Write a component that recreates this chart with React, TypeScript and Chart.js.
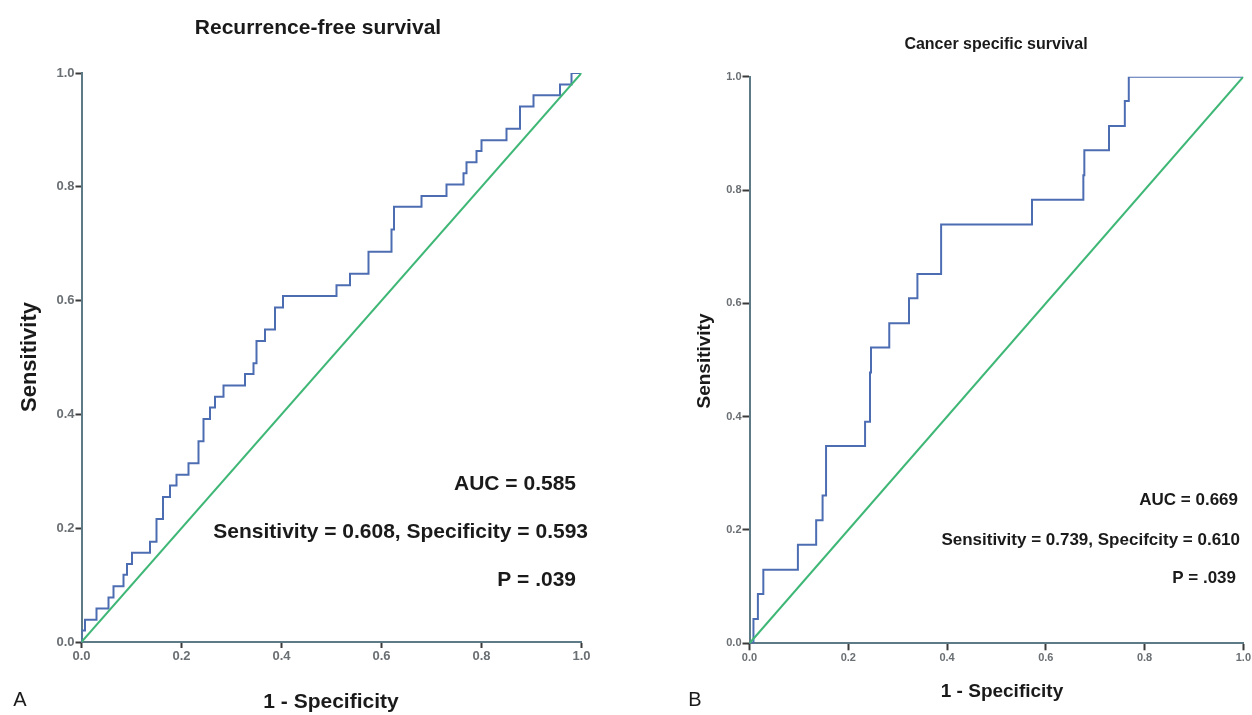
import React, { useEffect, useRef } from "react";
import { Chart, registerables } from "chart.js";

Chart.register(...registerables);

// ---- Data ----
// Panel A: Recurrence-free survival ROC (step points: at each FPR the curve rises to the given sensitivity)
const rfsFpr = [0, 0, 0.007, 0.030, 0.054, 0.064, 0.084, 0.091, 0.101, 0.137, 0.150, 0.163, 0.177, 0.190, 0.214, 0.234, 0.244, 0.257, 0.267, 0.284, 0.327, 0.344, 0.350, 0.367, 0.387, 0.403, 0.510, 0.537, 0.574, 0.620, 0.625, 0.680, 0.730, 0.764, 0.770, 0.790, 0.800, 0.850, 0.877, 0.904, 0.957, 0.980, 1.0];
const rfsSens = [0, 0.020, 0.039, 0.059, 0.078, 0.098, 0.118, 0.137, 0.157, 0.176, 0.216, 0.255, 0.275, 0.294, 0.314, 0.353, 0.392, 0.412, 0.431, 0.451, 0.471, 0.490, 0.529, 0.549, 0.588, 0.608, 0.627, 0.647, 0.686, 0.725, 0.765, 0.784, 0.804, 0.824, 0.843, 0.863, 0.882, 0.902, 0.941, 0.961, 0.980, 1.0, 1.0];

// Panel B: Cancer specific survival ROC
const cssFpr = [0, 0.008, 0.017, 0.028, 0.098, 0.135, 0.148, 0.155, 0.234, 0.244, 0.246, 0.283, 0.323, 0.340, 0.388, 0.572, 0.676, 0.678, 0.728, 0.760, 0.768, 1.0];
const cssSens = [0, 0.043, 0.087, 0.130, 0.174, 0.217, 0.261, 0.348, 0.391, 0.478, 0.522, 0.565, 0.609, 0.652, 0.739, 0.783, 0.826, 0.870, 0.913, 0.957, 1.0, 1.0];

// Reference (chance) line
const refX = [0, 1];
const refY = [0, 1];

// Axis ticks
const tickValues = [0, 0.2, 0.4, 0.6, 0.8, 1.0];

const FONT = '"Liberation Sans", Arial, Helvetica, sans-serif';
const BLUE = "#4d6db3";
const GREEN = "#3fb776";
const AXIS = "#5e7a86";

type TextItem = { text: string; x: number; y: number; font: string; color?: string; align?: CanvasTextAlign; rotate?: boolean };

function makeTextPlugin(items: TextItem[]) {
  return {
    id: "rocText",
    afterDraw(chart: any) {
      const ctx = chart.ctx as CanvasRenderingContext2D;
      for (const t of items) {
        ctx.save();
        ctx.font = t.font;
        ctx.fillStyle = t.color || "#1a1a1a";
        ctx.textAlign = t.align || "center";
        ctx.textBaseline = "middle";
        if (t.rotate) {
          ctx.translate(t.x, t.y);
          ctx.rotate(-Math.PI / 2);
          ctx.fillText(t.text, 0, 0);
        } else {
          ctx.fillText(t.text, t.x, t.y);
        }
        ctx.restore();
      }
    },
  };
}

type PanelProps = {
  left: number;
  width: number;
  fpr: number[];
  sens: number[];
  pad: { left: number; top: number; right: number; bottom: number };
  yWidth: number;
  xHeight: number;
  tickFont: number;
  tickLen: number;
  texts: TextItem[];
};

function RocPanel(p: PanelProps) {
  const ref = useRef<HTMLCanvasElement | null>(null);
  useEffect(() => {
    if (!ref.current) return;
    const toPts = (xs: number[], ys: number[]) => xs.map((x, i) => ({ x, y: ys[i] }));
    const tickOpts = {
      font: { family: FONT, size: p.tickFont, weight: "bold" as const },
      color: "#6a6f73",
      padding: 1,
      maxRotation: 0,
      autoSkip: false,
      callback: (v: any) => Number(v).toFixed(1),
    };
    const gridOpts = {
      display: true,
      drawOnChartArea: false,
      drawTicks: true,
      tickLength: p.tickLen,
      tickColor: "#3a3a3a",
      tickWidth: 2,
    };
    const chart = new Chart(ref.current, {
      type: "line",
      data: {
        datasets: [
          {
            data: toPts(refX, refY),
            borderColor: GREEN,
            borderWidth: 2,
            pointRadius: 0,
            fill: false,
          },
          {
            data: toPts(p.fpr, p.sens),
            borderColor: BLUE,
            borderWidth: 2,
            pointRadius: 0,
            stepped: "before",
            fill: false,
          },
        ],
      },
      options: {
        animation: false,
        responsive: false,
        devicePixelRatio: 1,
        layout: { padding: p.pad },
        plugins: { legend: { display: false }, tooltip: { enabled: false }, title: { display: false } },
        scales: {
          x: {
            type: "linear",
            min: 0,
            max: 1,
            afterBuildTicks: (s: any) => { s.ticks = tickValues.map((v) => ({ value: v })); },
            afterFit: (s: any) => { s.height = p.xHeight; },
            border: { display: true, color: AXIS, width: 2 },
            grid: gridOpts,
            ticks: tickOpts,
          },
          y: {
            type: "linear",
            min: 0,
            max: 1,
            afterBuildTicks: (s: any) => { s.ticks = tickValues.map((v) => ({ value: v })); },
            afterFit: (s: any) => { s.width = p.yWidth; },
            border: { display: true, color: AXIS, width: 2 },
            grid: gridOpts,
            ticks: tickOpts,
          },
        },
      },
      plugins: [makeTextPlugin(p.texts)],
    } as any);
    return () => chart.destroy();
  }, []);
  return (
    <canvas
      ref={ref}
      width={p.width}
      height={715}
      style={{ position: "absolute", left: p.left, top: 0, width: p.width, height: 715, display: "block" }}
    />
  );
}

export default function App() {
  const textsA: TextItem[] = [
    { text: "Recurrence-free survival", x: 318, y: 28, font: `bold 21px ${FONT}` },
    { text: "Sensitivity", x: 30, y: 357, font: `bold 22px ${FONT}`, rotate: true },
    { text: "1 - Specificity", x: 331, y: 702, font: `bold 21px ${FONT}` },
    { text: "A", x: 20, y: 700, font: `20px ${FONT}` },
    { text: "AUC = 0.585", x: 576, y: 484, font: `bold 21px ${FONT}`, align: "right" },
    { text: "Sensitivity = 0.608, Specificity = 0.593", x: 588, y: 532, font: `bold 21px ${FONT}`, align: "right" },
    { text: "P = .039", x: 576, y: 580, font: `bold 21px ${FONT}`, align: "right" },
  ];
  const textsB: TextItem[] = [
    { text: "Cancer specific survival", x: 996 - 626, y: 45, font: `bold 16px ${FONT}` },
    { text: "Sensitivity", x: 705 - 626, y: 361, font: `bold 19px ${FONT}`, rotate: true },
    { text: "1 - Specificity", x: 1002 - 626, y: 692, font: `bold 19px ${FONT}` },
    { text: "B", x: 695 - 626, y: 700, font: `20px ${FONT}` },
    { text: "AUC = 0.669", x: 1238 - 626, y: 500, font: `bold 17px ${FONT}`, align: "right" },
    { text: "Sensitivity = 0.739, Specifcity = 0.610", x: 1240 - 626, y: 540, font: `bold 17px ${FONT}`, align: "right" },
    { text: "P = .039", x: 1236 - 626, y: 578, font: `bold 17px ${FONT}`, align: "right" },
  ];
  return (
    <div style={{ position: "fixed", left: 0, top: 0, width: 1252, height: 715, background: "#ffffff", overflow: "hidden" }}>
      <RocPanel
        left={0}
        width={626}
        fpr={rfsFpr}
        sens={rfsSens}
        pad={{ left: 0, top: 73, right: 44.5, bottom: 0 }}
        yWidth={81.5}
        xHeight={73}
        tickFont={13}
        tickLen={6}
        texts={textsA}
      />
      <RocPanel
        left={626}
        width={626}
        fpr={cssFpr}
        sens={cssSens}
        pad={{ left: 0, top: 76.7, right: 8, bottom: 0 }}
        yWidth={123.5}
        xHeight={71.7}
        tickFont={11}
        tickLen={7}
        texts={textsB}
      />
    </div>
  );
}
